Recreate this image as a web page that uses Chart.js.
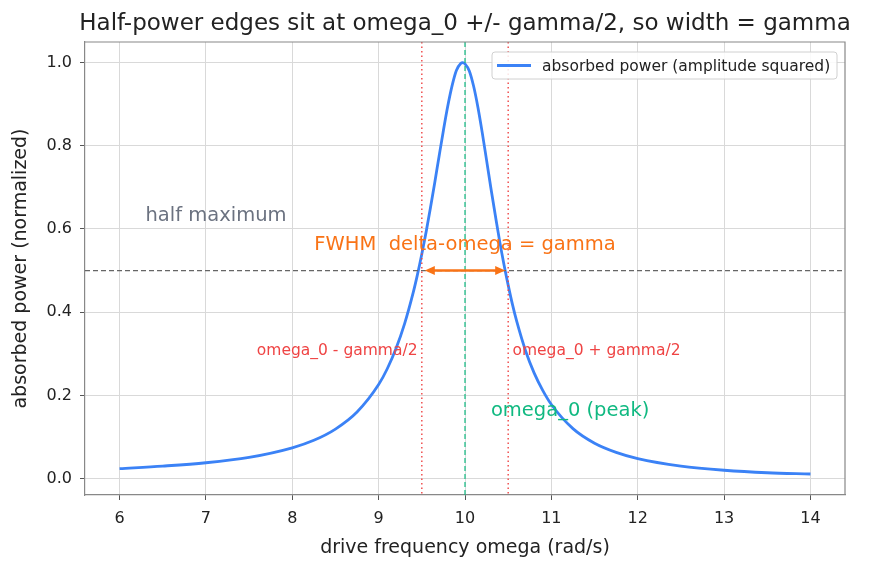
<!DOCTYPE html>
<html>
<head>
<meta charset="utf-8">
<script src="https://cdn.jsdelivr.net/npm/chart.js@4"></script>
<style>
  html, body { margin: 0; padding: 0; background: #fff; }
  #wrap { width: 870px; height: 569px; }
</style>
</head>
<body>
<div id="wrap"><canvas id="chart" width="870" height="569"></canvas></div>
<script>
// drive frequency (rad/s) and normalized absorbed power
const omega = [6, 6.5, 7, 7.5, 8, 8.25, 8.5, 8.75, 9, 9.1, 9.2, 9.3, 9.4, 9.45, 9.5, 9.55, 9.6, 9.65, 9.7, 9.75, 9.8, 9.85, 9.9, 9.95, 9.975,
  10, 10.05, 10.1, 10.15, 10.2, 10.25, 10.3, 10.35, 10.4, 10.45, 10.5, 10.55, 10.6, 10.7, 10.8, 10.9, 11, 11.25, 11.5, 11.75, 12, 12.5, 13, 13.5, 14];
const power = [0.024, 0.030, 0.038, 0.051, 0.074, 0.092, 0.119, 0.160, 0.226, 0.264, 0.312, 0.372, 0.447, 0.491, 0.540, 0.593, 0.651, 0.712, 0.775, 0.837, 0.895, 0.944, 0.981, 0.998, 1.0,
  0.997, 0.980, 0.943, 0.892, 0.831, 0.765, 0.698, 0.634, 0.572, 0.516, 0.465, 0.418, 0.377, 0.308, 0.254, 0.212, 0.178, 0.120, 0.085, 0.063, 0.048, 0.030, 0.020, 0.014, 0.011];

const xTicks = [6, 7, 8, 9, 10, 11, 12, 13, 14];
const yTicks = [0, 0.2, 0.4, 0.6, 0.8, 1.0];

const omega0 = 10;
const gammaHalf = 0.5;
const halfMax = 0.5;

const FONT = "'DejaVu Sans', sans-serif";
const BLUE = '#3b82f6';
const ORANGE = '#f97316';
const RED = '#ef4444';
const GREEN = '#10b981';

const overlay = {
  id: 'overlay',
  afterDatasetsDraw(chart) {
    const { ctx, chartArea: a, scales: { x, y } } = chart;
    ctx.save();

    // half maximum line
    ctx.strokeStyle = '#666';
    ctx.lineWidth = 1.2;
    ctx.setLineDash([5, 3]);
    ctx.beginPath();
    ctx.moveTo(a.left, y.getPixelForValue(halfMax));
    ctx.lineTo(a.right, y.getPixelForValue(halfMax));
    ctx.stroke();

    // half-power edges
    ctx.strokeStyle = RED;
    ctx.lineWidth = 1.4;
    ctx.setLineDash([1.5, 3]);
    [omega0 - gammaHalf, omega0 + gammaHalf].forEach((w) => {
      const px = x.getPixelForValue(w);
      ctx.beginPath();
      ctx.moveTo(px, a.top);
      ctx.lineTo(px, a.bottom);
      ctx.stroke();
    });

    // peak
    ctx.strokeStyle = GREEN;
    ctx.lineWidth = 1.2;
    ctx.setLineDash([5, 3]);
    const p0 = x.getPixelForValue(omega0);
    ctx.beginPath();
    ctx.moveTo(p0, a.top);
    ctx.lineTo(p0, a.bottom);
    ctx.stroke();
    ctx.setLineDash([]);

    // FWHM arrow
    const ay = y.getPixelForValue(halfMax);
    const ax1 = x.getPixelForValue(omega0 - gammaHalf) + 3;
    const ax2 = x.getPixelForValue(omega0 + gammaHalf) - 3;
    ctx.strokeStyle = ORANGE;
    ctx.fillStyle = ORANGE;
    ctx.lineWidth = 2.5;
    ctx.beginPath();
    ctx.moveTo(ax1 + 6, ay);
    ctx.lineTo(ax2 - 6, ay);
    ctx.stroke();
    [[ax1, 1], [ax2, -1]].forEach(([tip, dir]) => {
      ctx.beginPath();
      ctx.moveTo(tip, ay);
      ctx.lineTo(tip + dir * 10, ay - 4.5);
      ctx.lineTo(tip + dir * 10, ay + 4.5);
      ctx.closePath();
      ctx.fill();
    });

    // labels
    const text = (s, wx, wy, color, size, align, base) => {
      ctx.font = `${size}px ${FONT}`;
      ctx.fillStyle = color;
      ctx.textAlign = align;
      ctx.textBaseline = base;
      ctx.fillText(s, x.getPixelForValue(wx), y.getPixelForValue(wy));
    };
    text('half maximum', 6.3, 0.62, '#6b7280', 19.5, 'left', 'alphabetic');
    text('FWHM  delta-omega = gamma', omega0, 0.55, ORANGE, 19.5, 'center', 'alphabetic');
    text('omega_0 - gamma/2', 9.45, 0.307, RED, 15.5, 'right', 'middle');
    text('omega_0 + gamma/2', 10.55, 0.307, RED, 15.5, 'left', 'middle');
    text('omega_0 (peak)', 10.3, 0.15, GREEN, 19.5, 'left', 'alphabetic');

    // top and right spines
    ctx.strokeStyle = '#888';
    ctx.lineWidth = 1.2;
    ctx.beginPath();
    ctx.moveTo(a.left, a.top);
    ctx.lineTo(a.right, a.top);
    ctx.lineTo(a.right, a.bottom);
    ctx.stroke();

    // legend
    const lx = 492, ly = 52, lw = 345, lh = 27;
    ctx.fillStyle = 'rgba(255,255,255,0.85)';
    ctx.strokeStyle = '#d0d0d0';
    ctx.lineWidth = 1;
    ctx.beginPath();
    ctx.roundRect(lx, ly, lw, lh, 3);
    ctx.fill();
    ctx.stroke();
    ctx.strokeStyle = BLUE;
    ctx.lineWidth = 2.8;
    ctx.beginPath();
    ctx.moveTo(lx + 5, ly + lh / 2);
    ctx.lineTo(lx + 39, ly + lh / 2);
    ctx.stroke();
    ctx.font = `15.5px ${FONT}`;
    ctx.fillStyle = '#222';
    ctx.textAlign = 'left';
    ctx.textBaseline = 'middle';
    ctx.fillText('absorbed power (amplitude squared)', lx + 50, ly + lh / 2 + 1);

    // title
    ctx.font = `23px ${FONT}`;
    ctx.fillStyle = '#222';
    ctx.textAlign = 'center';
    ctx.textBaseline = 'middle';
    ctx.fillText('Half-power edges sit at omega_0 +/- gamma/2, so width = gamma', (a.left + a.right) / 2, 24);

    ctx.restore();
  },
};

new Chart(document.getElementById('chart'), {
  type: 'line',
  data: {
    datasets: [
      {
        label: 'absorbed power (amplitude squared)',
        data: omega.map((w, i) => ({ x: w, y: power[i] })),
        borderColor: BLUE,
        borderWidth: 2.8,
        pointRadius: 0,
        cubicInterpolationMode: 'monotone',
        fill: false,
      },
    ],
  },
  options: {
    responsive: false,
    animation: false,
    layout: { padding: { left: 8, right: 25, top: 42, bottom: 0 } },
    plugins: {
      legend: { display: false },
      title: { display: false },
      tooltip: { enabled: false },
    },
    scales: {
      x: {
        type: 'linear',
        min: 5.6,
        max: 14.4,
        afterBuildTicks: (s) => { s.ticks = xTicks.map((v) => ({ value: v })); },
        afterFit: (s) => { s.height = 74; },
        ticks: { font: { family: FONT, size: 16 }, color: '#222', padding: 9, maxRotation: 0 },
        grid: { color: '#d9d9d9', tickColor: '#555', tickLength: 5 },
        border: { color: '#888', width: 1.2 },
        title: { display: true, text: 'drive frequency omega (rad/s)', font: { family: FONT, size: 19 }, color: '#222', padding: { top: 0, bottom: 10 } },
      },
      y: {
        min: -0.0395,
        max: 1.0495,
        afterBuildTicks: (s) => { s.ticks = yTicks.map((v) => ({ value: v })); },
        afterFit: (s) => { s.width = 77; },
        ticks: { font: { family: FONT, size: 16 }, color: '#222', padding: 8, callback: (v) => v.toFixed(1) },
        grid: { color: '#d9d9d9', tickColor: '#555', tickLength: 5 },
        border: { color: '#888', width: 1.2 },
        title: { display: true, text: 'absorbed power (normalized)', font: { family: FONT, size: 19 }, color: '#222', padding: { top: 2, bottom: 4 } },
      },
    },
  },
  plugins: [overlay],
});
</script>
</body>
</html>
